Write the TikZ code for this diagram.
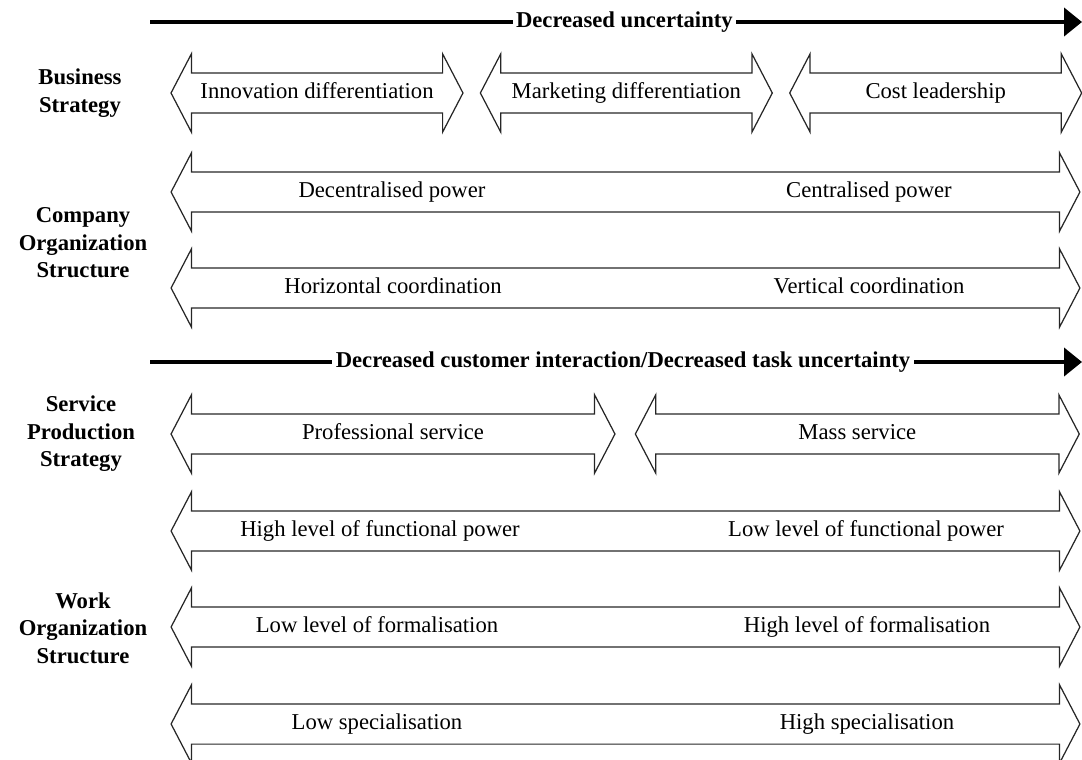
\documentclass[tikz,border=0pt]{standalone}
\usepackage{fontspec}
\setmainfont{Liberation Serif}
\usetikzlibrary{arrows.meta,shapes.arrows,positioning}
\newcommand{\lblfont}{\fontsize{12.9}{15.6}\selectfont}
\tikzset{
	spanarrow/.style={
		double arrow, draw=black!85, line width=0.7pt,
		inner xsep=0pt, inner ysep=0.39cm,
		double arrow head extend=0.38cm, double arrow tip angle=125,
		minimum width=1.54cm
	},
	%
	levellabel/.style={
		font=\lblfont, inner sep=1pt, text height=0.8em, text depth=0.2em
	},
	%
	rowtitle/.style={
		align=center, font=\lblfont\bfseries
	},
	%
	trendline/.style={
		line width=2.3pt, -{Triangle[length=0.36cm,width=0.56cm]}
	},
	%
	trendlabel/.style={
		fill=white, inner xsep=2pt, inner ysep=1pt, font=\lblfont\bfseries
	}
}
\begin{document}
\begin{tikzpicture}[x=0.02cm,y=-0.02cm]
    \useasboundingbox (0,0) rectangle (1082,760);
    % uncertainty trend
    \coordinate(U0) at (150,22);
    \coordinate(U1) at (1082,22);
    \draw[trendline] (U0) -- node(Utrend)[trendlabel, pos=0.509]{Decreased uncertainty} (U1);
    % business strategy
    \node(Bstrat)[rowtitle] at (80,93){Business\\Strategy};
    \node(Innov)[spanarrow, minimum height=5.84cm] at (317,93){};
    \node(Market)[spanarrow, minimum height=5.84cm, right=0.32cm of Innov]{};
    \node(Cost)[spanarrow, minimum height=5.84cm, right=0.32cm of Market]{};
    \node(InnovTxt)[levellabel] at (Innov){Innovation differentiation};
    \node(MarketTxt)[levellabel] at (Market){Marketing differentiation};
    \node(CostTxt)[levellabel] at (Cost){Cost leadership};
    % company organization
    \node(Corg)[rowtitle] at (83,243){Company\\Organization\\Structure};
    \node(Power)[spanarrow, minimum height=18.18cm] at (625.5,192){};
    \node(Decen)[levellabel] at (392,192){Decentralised power};
    \node(Cen)[levellabel] at (869,192){Centralised power};
    \node(Coord)[spanarrow, minimum height=18.18cm] at (625.5,288){};
    \node(Horiz)[levellabel] at (393,288){Horizontal coordination};
    \node(Vert)[levellabel] at (869,288){Vertical coordination};
    % customer interaction trend
    \coordinate(C0) at (150,362);
    \coordinate(C1) at (1082,362);
    \draw[trendline] (C0) -- node(Ctrend)[trendlabel, pos=0.5075]{Decreased customer interaction/Decreased task uncertainty} (C1);
    % service production
    \node(Sprod)[rowtitle] at (81,434){Service\\Production\\Strategy};
    \node(Prof)[spanarrow, minimum height=8.88cm] at (393,434){};
    \node(Mass)[spanarrow, minimum height=8.88cm, right=0.38cm of Prof]{};
    \node(ProfTxt)[levellabel] at (Prof){Professional service};
    \node(MassTxt)[levellabel] at (Mass){Mass service};
    % work organization
    \node(Worg)[rowtitle] at (83,628){Work\\Organization\\Structure};
    \node(Funct)[spanarrow, minimum height=18.18cm] at (625.5,531){};
    \node(FunctHi)[levellabel] at (380,531){High level of functional power};
    \node(FunctLo)[levellabel] at (866,531){Low level of functional power};
    \node(Formal)[spanarrow, minimum height=18.18cm] at (625.5,627){};
    \node(FormalLo)[levellabel] at (377,627){Low level of formalisation};
    \node(FormalHi)[levellabel] at (867,627){High level of formalisation};
    \node(Spec)[spanarrow, minimum height=18.18cm] at (625.5,724){};
    \node(SpecLo)[levellabel] at (377,724){Low specialisation};
    \node(SpecHi)[levellabel] at (867,724){High specialisation};
\end{tikzpicture}
\end{document}
